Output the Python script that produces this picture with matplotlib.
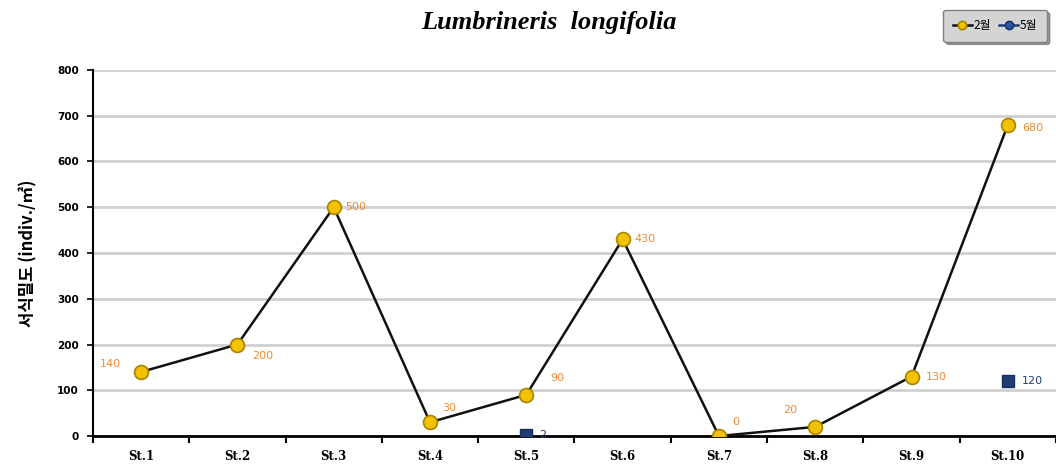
import matplotlib
matplotlib.use("Agg")
import matplotlib.pyplot as plt
import numpy as np

plt.rcParams['font.family'] = ['Noto Sans CJK KR', 'DejaVu Sans']

stations = ["St.1", "St.2", "St.3", "St.4", "St.5", "St.6", "St.7", "St.8", "St.9", "St.10"]
feb_values = [140, 200, 500, 30, 90, 430, 0, 20, 130, 680]
may_stations = ["St.5", "St.10"]
may_values = [2, 120]
yticks = [0, 100, 200, 300, 400, 500, 600, 700, 800]

fig = plt.figure(figsize=(10.56, 4.76), dpi=100)
ax = fig.add_axes([0.088, 0.084, 0.912, 0.769])

x = np.arange(len(stations))
ax.plot(x, feb_values, color='#111111', lw=1.8, marker='o', markersize=10,
        markerfacecolor='#f2c200', markeredgecolor='#a88400', markeredgewidth=1.2,
        label='2월', zorder=3)

may_x = [stations.index(s) for s in may_stations]
ax.plot(may_x, may_values, color='#1f3d73', lw=1.6, linestyle='none', marker='s',
        markersize=9, markerfacecolor='#1f3d73', markeredgecolor='#16305c',
        zorder=4)
# legend proxy with connecting line
ax.plot([], [], color='#1f3d73', lw=1.8, marker='o', markersize=10,
        markerfacecolor='#2a55a0', markeredgecolor='#16305c', label='5월')

# value labels
feb_offsets = [(-22, 6), (18, -8), (16, 0), (14, 10), (22, 12), (16, 0),
               (12, 10), (-18, 12), (18, 0), (18, -2)]
for xi, v, off in zip(x, feb_values, feb_offsets):
    ax.annotate(str(v), (xi, v), xytext=off, textcoords='offset points',
                ha='center', va='center', fontsize=8, color='#f08a30',
                family=['DejaVu Sans'])
may_offsets = [(12, 0), (18, 0)]
for xi, v, off in zip(may_x, may_values, may_offsets):
    ax.annotate(str(v), (xi, v), xytext=off, textcoords='offset points',
                ha='center', va='center', fontsize=8, color='#1f3d73',
                family=['DejaVu Sans'])

ax.set_xlim(-0.5, len(stations) - 0.5)
ax.set_ylim(0, 800)
ax.set_yticks(yticks)
ax.set_yticklabels([str(t) for t in yticks], fontsize=7.5, fontweight='bold',
                   family=['DejaVu Sans'])
ax.set_xticks(x)
ax.set_xticklabels(stations, fontsize=8.5, fontweight='bold', family=['DejaVu Serif'])
ax.set_xticks(np.arange(-0.5, len(stations)), minor=True)
ax.tick_params(axis='x', which='major', length=0, pad=10)
ax.tick_params(axis='x', which='minor', length=5, width=1.5, direction='out')
ax.tick_params(axis='y', length=4, width=1.2, direction='out', pad=6)

ax.yaxis.grid(True, color='#d0d0d0', lw=2)
ax.set_axisbelow(True)
for s in ['top', 'right']:
    ax.spines[s].set_visible(False)
ax.spines['left'].set_linewidth(1.5)
ax.spines['bottom'].set_linewidth(2)

ax.set_ylabel('서식밀도 (indiv./㎡)', fontsize=12, fontweight='bold', labelpad=14,
              family=['Noto Sans CJK KR', 'DejaVu Sans'])

fig.text(0.52, 0.952, 'Lumbrineris  longifolia', ha='center', va='center',
         fontsize=19, fontstyle='italic', fontweight='bold',
         family=['Liberation Serif', 'DejaVu Serif'])

leg = fig.legend(loc='upper right', bbox_to_anchor=(0.997, 0.992), ncol=2,
                 fontsize=8.5, frameon=True, fancybox=True, shadow=True,
                 markerscale=0.6, handlelength=1.6, columnspacing=0.7,
                 handletextpad=0.15, borderpad=0.8)
leg.get_frame().set_facecolor('#d4d4d4')
leg.get_frame().set_edgecolor('#808080')
leg.get_frame().set_alpha(1)

fig.savefig('out.png', dpi=100)
